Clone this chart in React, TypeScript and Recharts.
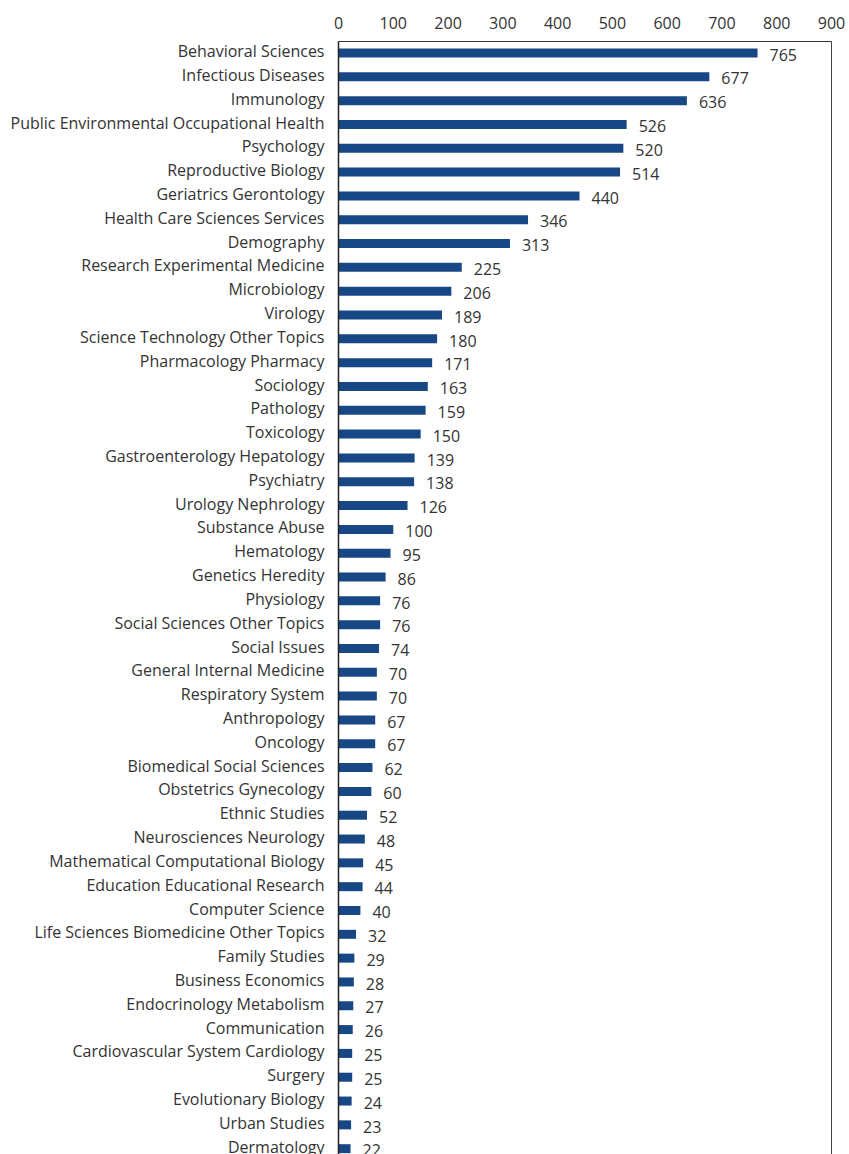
import React from 'react';
import { BarChart, Bar, XAxis, YAxis, LabelList, ReferenceLine } from 'recharts';

const categories: string[] = [
  'Behavioral Sciences', 'Infectious Diseases', 'Immunology', 'Public Environmental Occupational Health',
  'Psychology', 'Reproductive Biology', 'Geriatrics Gerontology', 'Health Care Sciences Services',
  'Demography', 'Research Experimental Medicine', 'Microbiology', 'Virology',
  'Science Technology Other Topics', 'Pharmacology Pharmacy', 'Sociology', 'Pathology',
  'Toxicology', 'Gastroenterology Hepatology', 'Psychiatry', 'Urology Nephrology',
  'Substance Abuse', 'Hematology', 'Genetics Heredity', 'Physiology',
  'Social Sciences Other Topics', 'Social Issues', 'General Internal Medicine', 'Respiratory System',
  'Anthropology', 'Oncology', 'Biomedical Social Sciences', 'Obstetrics Gynecology',
  'Ethnic Studies', 'Neurosciences Neurology', 'Mathematical Computational Biology', 'Education Educational Research',
  'Computer Science', 'Life Sciences Biomedicine Other Topics', 'Family Studies', 'Business Economics',
  'Endocrinology Metabolism', 'Communication', 'Cardiovascular System Cardiology', 'Surgery',
  'Evolutionary Biology', 'Urban Studies', 'Dermatology',
];

const counts: number[] = [
  765, 677, 636, 526, 520, 514, 440, 346, 313, 225, 206, 189, 180, 171, 163, 159,
  150, 139, 138, 126, 100, 95, 86, 76, 76, 74, 70, 70, 67, 67, 62, 60,
  52, 48, 45, 44, 40, 32, 29, 28, 27, 26, 25, 25, 24, 23, 22,
];

const xTicks: number[] = [0, 100, 200, 300, 400, 500, 600, 700, 800, 900];

const data = categories.map((name, i) => ({ name, value: counts[i] }));

const FONT = '"Open Sans", "Noto Sans", sans-serif';
const TEXT = '#333333';

export default function App() {
  return (
    <div style={{ position: 'absolute', top: 0, left: 0, width: 849, height: 1154, overflow: 'hidden', background: '#fff' }}>
      <BarChart
        width={849}
        height={1161}
        data={data}
        layout="vertical"
        margin={{ top: 0, right: 17.5, bottom: 0, left: 0 }}
        barSize={9}
        style={{ fontFamily: FONT }}
      >
        <XAxis
          type="number"
          orientation="top"
          domain={[0, 900]}
          ticks={xTicks}
          height={41.5}
          tickLine={false}
          tickSize={6}
          tickMargin={7}
          axisLine={{ stroke: '#333', strokeWidth: 1 }}
          tick={{ fill: TEXT, fontSize: 16, fontFamily: FONT }}
          interval={0}
        />
        <YAxis
          type="category"
          dataKey="name"
          width={338.5}
          tickLine={false}
          tickSize={6}
          tickMargin={8}
          axisLine={{ stroke: '#222', strokeWidth: 1.5 }}
          tick={{ fill: TEXT, fontSize: 16, fontFamily: FONT, dy: -2 }}
          interval={0}
        />
        <ReferenceLine x={900} stroke="#444" strokeWidth={1} />
        <Bar dataKey="value" fill="#174785" isAnimationActive={false}>
          <LabelList
            dataKey="value"
            position="right"
            offset={12}
            dy={2}
            fill={TEXT}
            fontSize={16}
            fontFamily={FONT}
          />
        </Bar>
      </BarChart>
    </div>
  );
}
